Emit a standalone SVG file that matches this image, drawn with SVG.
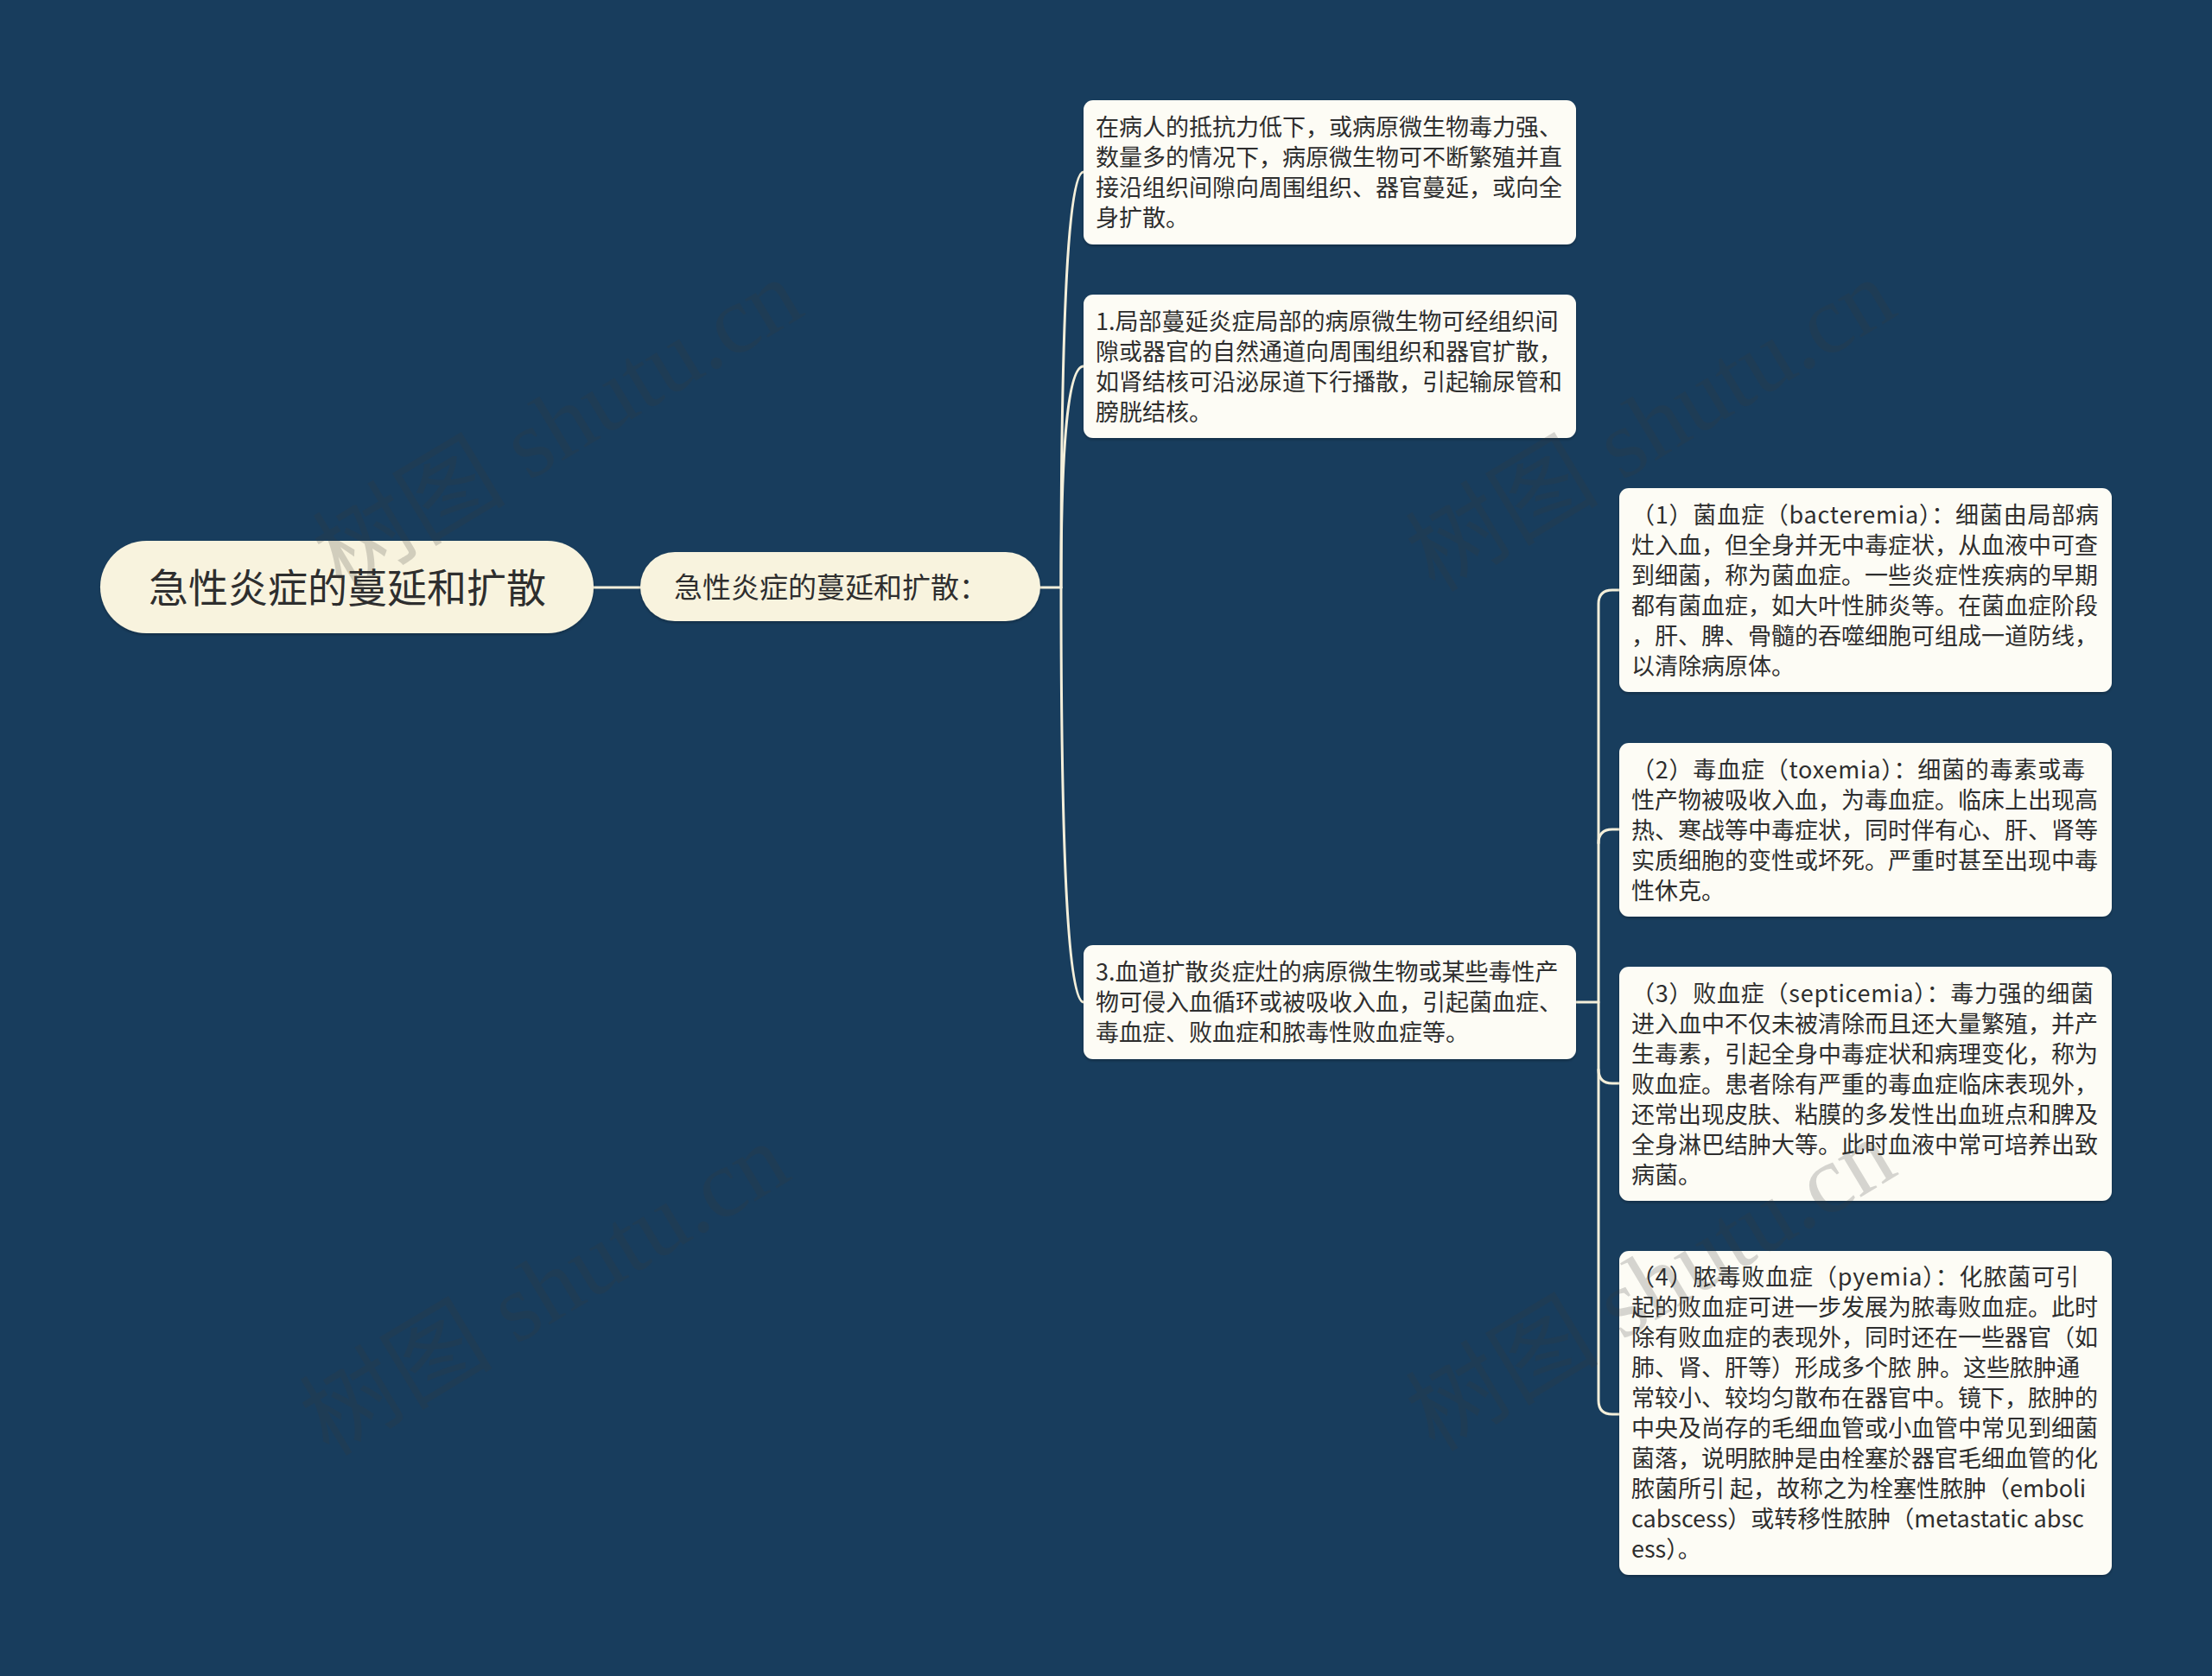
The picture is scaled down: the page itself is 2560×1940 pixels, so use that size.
<svg xmlns="http://www.w3.org/2000/svg" width="2560" height="1940" viewBox="0 0 2560 1940">
<style>
.bg{fill:#183d5d}
.link{fill:none;stroke:#f4efda;stroke-width:3;stroke-linecap:round}
.pill{fill:#f8f3de}
.box{fill:#fdfcf5}
.t{font-family:"Noto Sans CJK SC","Noto Sans",sans-serif;fill:#2e2e2e}
.t27{font-size:27px}
.wm{font-family:"Liberation Serif","Noto Sans CJK SC",serif;font-size:112px;fill:#3a3a3a;opacity:0.2}
</style>
<defs>
<filter id="sh" x="-5%" y="-5%" width="110%" height="120%">
<feDropShadow dx="0" dy="2" stdDeviation="1.5" flood-color="#000" flood-opacity="0.25"/>
</filter>
</defs>
<rect class="bg" x="0" y="0" width="2560" height="1940"/>

<g id="connectors">
<line class="link" x1="687" y1="680" x2="741" y2="680"/>
<line class="link" x1="1204" y1="680" x2="1228" y2="680"/>
<path class="link" d="M1228 680 Q1228 199 1254 199"/>
<path class="link" d="M1228 680 Q1228 424 1254 424"/>
<path class="link" d="M1228 680 Q1228 1160 1254 1160"/>
<line class="link" x1="1824" y1="1160" x2="1850" y2="1160"/>
<path class="link" d="M1874 683 L1866 683 Q1850 683 1850 699 L1850 1621 Q1850 1637 1866 1637 L1874 1637"/>
<path class="link" d="M1850 976 Q1850 960 1866 960 L1874 960"/>
<path class="link" d="M1850 1238 Q1850 1254 1866 1254 L1874 1254"/>
</g>

<g id="root">
<rect class="pill" x="116" y="626" width="571" height="107" rx="53.5" filter="url(#sh)"/>
<text class="t" x="402" y="697" font-size="46" text-anchor="middle">急性炎症的蔓延和扩散</text>
</g>

<g id="n-main">
<rect class="pill" x="741" y="639" width="463" height="80" rx="40" filter="url(#sh)"/>
<text class="t" x="780" y="692" font-size="33">急性炎症的蔓延和扩散：</text>
</g>

<g id="n-a">
<rect class="box" x="1254" y="116" width="570" height="167" rx="11" filter="url(#sh)"/>
<text class="t t27"><tspan x="1268" y="157">在病人的抵抗力低下，或病原微生物毒力强、</tspan><tspan x="1268" y="192">数量多的情况下，病原微生物可不断繁殖并直</tspan><tspan x="1268" y="227">接沿组织间隙向周围组织、器官蔓延，或向全</tspan><tspan x="1268" y="262">身扩散。</tspan></text>
</g>

<g id="n-b">
<rect class="box" x="1254" y="341" width="570" height="166" rx="11" filter="url(#sh)"/>
<text class="t t27"><tspan x="1268" y="381.5">1.局部蔓延炎症局部的病原微生物可经组织间</tspan><tspan x="1268" y="416.5">隙或器官的自然通道向周围组织和器官扩散，</tspan><tspan x="1268" y="451.5">如肾结核可沿泌尿道下行播散，引起输尿管和</tspan><tspan x="1268" y="486.5">膀胱结核。</tspan></text>
</g>

<g id="n-c">
<rect class="box" x="1254" y="1094" width="570" height="132" rx="11" filter="url(#sh)"/>
<text class="t t27"><tspan x="1268" y="1135">3.血道扩散炎症灶的病原微生物或某些毒性产</tspan><tspan x="1268" y="1170">物可侵入血循环或被吸收入血，引起菌血症、</tspan><tspan x="1268" y="1205">毒血症、败血症和脓毒性败血症等。</tspan></text>
</g>

<g id="n-c1">
<rect class="box" x="1874" y="565" width="570" height="236" rx="11" filter="url(#sh)"/>
<text class="t t27" x="1888" y="605.5" textLength="541" lengthAdjust="spacing">（1）菌血症（bacteremia）：细菌由局部病</text>
<text class="t t27"><tspan x="1888" y="640.5">灶入血，但全身并无中毒症状，从血液中可查</tspan><tspan x="1888" y="675.5">到细菌，称为菌血症。一些炎症性疾病的早期</tspan><tspan x="1888" y="710.5">都有菌血症，如大叶性肺炎等。在菌血症阶段</tspan><tspan x="1888" y="745.5">，肝、脾、骨髓的吞噬细胞可组成一道防线，</tspan><tspan x="1888" y="780.5">以清除病原体。</tspan></text>
</g>

<g id="n-c2">
<rect class="box" x="1874" y="860" width="570" height="201" rx="11" filter="url(#sh)"/>
<text class="t t27" x="1888" y="900.5" textLength="525" lengthAdjust="spacing">（2）毒血症（toxemia）：细菌的毒素或毒</text>
<text class="t t27"><tspan x="1888" y="935.5">性产物被吸收入血，为毒血症。临床上出现高</tspan><tspan x="1888" y="970.5">热、寒战等中毒症状，同时伴有心、肝、肾等</tspan><tspan x="1888" y="1005.5">实质细胞的变性或坏死。严重时甚至出现中毒</tspan><tspan x="1888" y="1040.5">性休克。</tspan></text>
</g>

<g id="n-c3">
<rect class="box" x="1874" y="1119" width="570" height="271" rx="11" filter="url(#sh)"/>
<text class="t t27" x="1888" y="1159.5" textLength="535" lengthAdjust="spacing">（3）败血症（septicemia）：毒力强的细菌</text>
<text class="t t27"><tspan x="1888" y="1194.5">进入血中不仅未被清除而且还大量繁殖，并产</tspan><tspan x="1888" y="1229.5">生毒素，引起全身中毒症状和病理变化，称为</tspan><tspan x="1888" y="1264.5">败血症。患者除有严重的毒血症临床表现外，</tspan><tspan x="1888" y="1299.5">还常出现皮肤、粘膜的多发性出血班点和脾及</tspan><tspan x="1888" y="1334.5">全身淋巴结肿大等。此时血液中常可培养出致</tspan><tspan x="1888" y="1369.5">病菌。</tspan></text>
</g>

<g id="n-c4">
<rect class="box" x="1874" y="1448" width="570" height="375" rx="11" filter="url(#sh)"/>
<text class="t t27" x="1888" y="1488" textLength="518" lengthAdjust="spacing">（4）脓毒败血症（pyemia）：化脓菌可引</text>
<text class="t t27"><tspan x="1888" y="1523">起的败血症可进一步发展为脓毒败血症。此时</tspan><tspan x="1888" y="1558">除有败血症的表现外，同时还在一些器官（如</tspan><tspan x="1888" y="1593">肺、肾、肝等）形成多个脓 肿。这些脓肿通</tspan><tspan x="1888" y="1628">常较小、较均匀散布在器官中。镜下，脓肿的</tspan><tspan x="1888" y="1663">中央及尚存的毛细血管或小血管中常见到细菌</tspan><tspan x="1888" y="1698">菌落，说明脓肿是由栓塞於器官毛细血管的化</tspan><tspan x="1888" y="1733">脓菌所引 起，故称之为栓塞性脓肿（emboli</tspan><tspan x="1888" y="1768">cabscess）或转移性脓肿（metastatic absc</tspan><tspan x="1888" y="1803">ess）。</tspan></text>
</g>

<g id="watermarks">
<text class="wm" x="665" y="525" text-anchor="middle" transform="rotate(-31 665 525)">树图 shutu.cn</text>
<text class="wm" x="1930" y="525" text-anchor="middle" transform="rotate(-31 1930 525)">树图 shutu.cn</text>
<text class="wm" x="650" y="1525" text-anchor="middle" transform="rotate(-31 650 1525)">树图 shutu.cn</text>
<text class="wm" x="1930" y="1520" text-anchor="middle" transform="rotate(-31 1930 1520)">树图 shutu.cn</text>
</g>
</svg>
